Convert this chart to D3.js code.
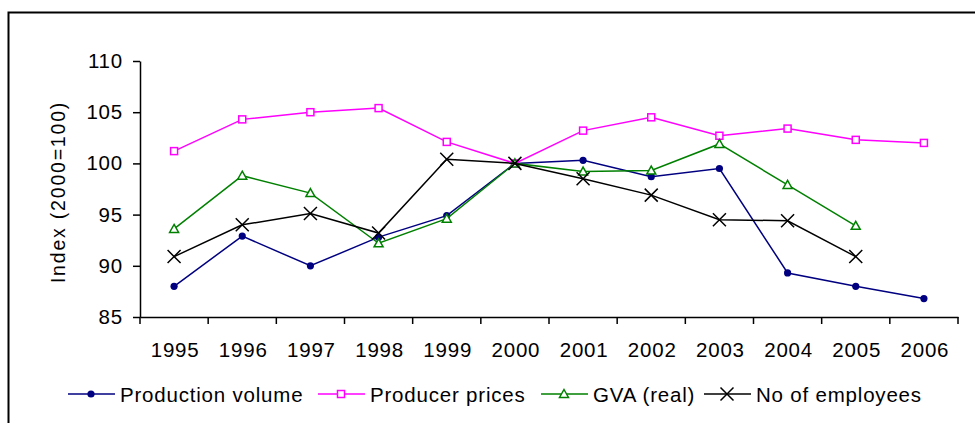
<!DOCTYPE html>
<html>
<head>
<meta charset="utf-8">
<script src="https://cdn.jsdelivr.net/npm/d3@7"></script>
<style>
  body { margin: 0; background: #fff; }
  svg { display: block; font-family: "Liberation Sans", Arial, sans-serif; }
  text { letter-spacing: 0.8px; }
</style>
</head>
<body>
<svg width="975" height="423"></svg>
<script>
const years = [1995, 1996, 1997, 1998, 1999, 2000, 2001, 2002, 2003, 2004, 2005, 2006];
const productionVolume = [88.0, 92.9, 90.0, 92.8, 94.9, 100, 100.3, 98.7, 99.5, 89.3, 88.0, 86.8];
const producerPrices = [101.2, 104.3, 105.0, 105.4, 102.1, 100, 103.2, 104.5, 102.7, 103.4, 102.3, 102.0];
const gvaReal = [93.6, 98.8, 97.1, 92.2, 94.6, 100, 99.2, 99.3, 101.9, 97.9, 93.9, null];
const employees = [90.9, 94.0, 95.1, 93.2, 100.4, 100, 98.5, 96.9, 94.5, 94.4, 90.9, null];
const yTicks = [85, 90, 95, 100, 105, 110];

const series = [
  { name: "Production volume", values: productionVolume, color: "#000080", marker: "dot" },
  { name: "Producer prices", values: producerPrices, color: "#ff00ff", marker: "square" },
  { name: "GVA (real)", values: gvaReal, color: "#008000", marker: "triangle" },
  { name: "No of employees", values: employees, color: "#000000", marker: "cross" }
];

const plotLeft = 140, plotRight = 958, plotTop = 61, plotBottom = 317;
const fontSize = 20.5;

const svg = d3.select("svg");

// frame around the chart (runs off the right and bottom)
svg.append("rect")
  .attr("x", 8.5).attr("y", 12.5)
  .attr("width", 1000).attr("height", 500)
  .attr("fill", "none").attr("stroke", "#000").attr("stroke-width", 2);

const x = d3.scaleBand().domain(years).range([plotLeft, plotRight]).paddingInner(0).paddingOuter(0);
const y = d3.scaleLinear().domain([85, 110]).range([plotBottom, plotTop]);

// y axis
const gy = svg.append("g")
  .attr("transform", `translate(${plotLeft},0)`)
  .call(d3.axisLeft(y).tickValues(yTicks).tickSize(7).tickPadding(10).tickSizeOuter(0));
gy.select(".domain").attr("stroke", "#000").attr("stroke-width", 1.5);
gy.selectAll("line").attr("stroke", "#000").attr("stroke-width", 1.5);
gy.selectAll("text").attr("font-size", fontSize).attr("fill", "#000")
  .attr("font-family", "Liberation Sans, Arial, sans-serif");

// x axis: labels centred in each band, ticks on band edges
const gx = svg.append("g")
  .attr("transform", `translate(0,${plotBottom})`)
  .call(d3.axisBottom(x).tickSize(0).tickPadding(25).tickSizeOuter(0));
gx.select(".domain").attr("stroke", "#000").attr("stroke-width", 1.5);
gx.selectAll("text").attr("font-size", fontSize).attr("fill", "#000")
  .attr("font-family", "Liberation Sans, Arial, sans-serif")
  .attr("dx", 1);
gx.selectAll(".edge")
  .data(years.map(d => x(d)).concat([x.range()[1]]))
  .enter().append("line")
  .attr("x1", d => d).attr("x2", d => d)
  .attr("y1", 0).attr("y2", 7)
  .attr("stroke", "#000").attr("stroke-width", 1.5);

// y axis title
svg.append("text")
  .attr("transform", "translate(65,192) rotate(-90)")
  .attr("text-anchor", "middle")
  .attr("font-size", 19.5)
  .style("letter-spacing", "1.8px")
  .text("Index (2000=100)");

const cx = d => x(d) + x.bandwidth() / 2;

const line = d3.line()
  .defined(d => d.v != null)
  .x(d => cx(d.year))
  .y(d => y(d.v));

function drawMarker(g, type, color) {
  if (type === "dot") {
    g.append("circle").attr("r", 3.6).attr("fill", color);
  } else if (type === "square") {
    g.append("rect").attr("x", -3.5).attr("y", -3.5).attr("width", 7).attr("height", 7)
      .attr("fill", "#fff").attr("stroke", color).attr("stroke-width", 1.5);
  } else if (type === "triangle") {
    g.append("path").attr("d", "M0,-4.5L4.5,3.5L-4.5,3.5Z")
      .attr("fill", "#fff").attr("stroke", color).attr("stroke-width", 1.5);
  } else {
    g.append("path").attr("d", "M-6.5,-6.5L6.5,6.5M-6.5,6.5L6.5,-6.5")
      .attr("stroke", color).attr("stroke-width", 1.5);
  }
}

series.forEach(s => {
  const pts = years.map((yr, i) => ({ year: yr, v: s.values[i] }));
  svg.append("path")
    .datum(pts)
    .attr("fill", "none")
    .attr("stroke", s.color)
    .attr("stroke-width", 1.5)
    .attr("d", line);
  svg.append("g").selectAll("g")
    .data(pts.filter(d => d.v != null))
    .enter().append("g")
    .attr("transform", d => `translate(${cx(d.year)},${y(d.v)})`)
    .each(function () { drawMarker(d3.select(this), s.marker, s.color); });
});

// legend
const legendY = 394;
const legendX = [68, 318, 541, 704];
series.forEach((s, i) => {
  const g = svg.append("g").attr("transform", `translate(${legendX[i]},${legendY})`);
  g.append("line").attr("x1", 0).attr("x2", 47).attr("stroke", s.color).attr("stroke-width", 1.5);
  drawMarker(g.append("g").attr("transform", "translate(23,0)"), s.marker, s.color);
  g.append("text").attr("x", 52).attr("y", 7.5).attr("font-size", fontSize).text(s.name);
});
</script>
</body>
</html>
